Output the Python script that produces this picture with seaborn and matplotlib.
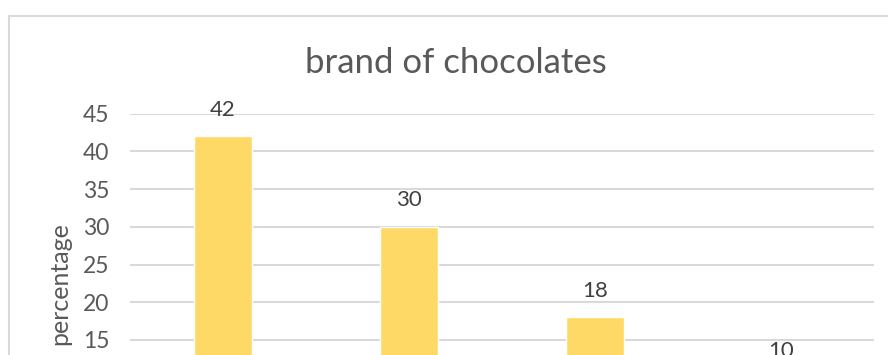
import matplotlib
matplotlib.use("Agg")
import matplotlib.pyplot as plt
import seaborn as sns
import pandas as pd
from matplotlib.patches import Rectangle

categories = ["Brand A", "Brand B", "Brand C", "Brand D"]
percentages = [42, 30, 18, 10]
y_ticks = [0, 5, 10, 15, 20, 25, 30, 35, 40, 45]

sns.set_theme(style="white")
plt.rcParams['font.family'] = ['Lato', 'DejaVu Sans']

df = pd.DataFrame({"brand": categories, "percentage": percentages})

W, H = 888, 355
fig = plt.figure(figsize=(W / 100, H / 100), dpi=100)
fig.patch.set_facecolor("white")

# chart border (extends past the cropped edges)
fig.patches.append(Rectangle((9 / W, -1), 2, 1 + (H - 15.5) / H, transform=fig.transFigure,
                             fill=False, edgecolor="#D9D9D9", linewidth=1.5))

ax = fig.add_axes([130 / W, -0.276, 744 / W, 0.9555])
sns.barplot(data=df, x="brand", y="percentage", color="#FFD966", saturation=1,
            width=0.315, ax=ax, zorder=3)
ax.set_xlim(-0.5, len(categories) - 0.5)
ax.set_ylim(0, 45)
ax.set_yticks(y_ticks)
ax.yaxis.grid(True, color="#D9D9D9", linewidth=1.5, zorder=0)
ax.set_axisbelow(True)
for s in ax.spines.values():
    s.set_visible(False)
ax.tick_params(axis="y", length=0, pad=15, labelsize=16.5, labelcolor="#595959")
ax.tick_params(axis="x", length=0, labelsize=16.5, labelcolor="#595959")
ax.set_xlabel("")
ax.set_ylabel("percentage", fontsize=18, color="#595959", labelpad=8)

for i, v in enumerate(percentages):
    ax.annotate(str(v), (i, v), xytext=(0, 19), textcoords="offset points",
                ha="center", va="center", fontsize=16, color="#404040")

fig.text(456 / W, 1 - 63 / H, "brand of chocolates", ha="center", va="center",
         fontsize=25, color="#595959")

fig.savefig("out.png", dpi=100, facecolor="white")
